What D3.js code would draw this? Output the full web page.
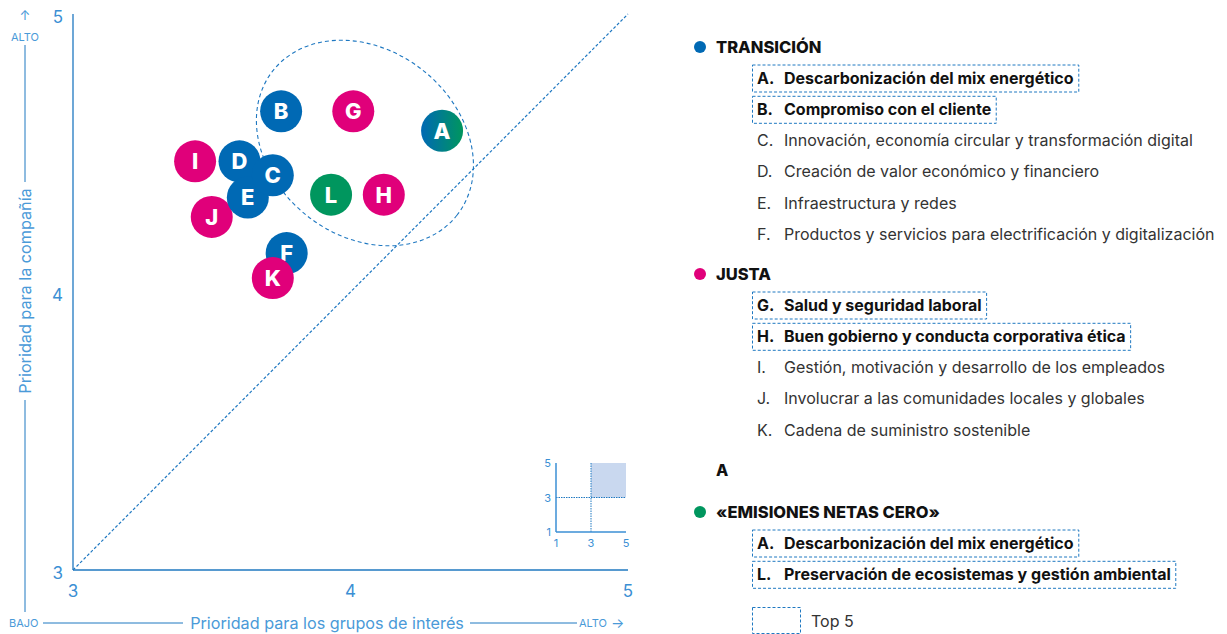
<!DOCTYPE html>
<html>
<head>
<meta charset="utf-8">
<script src="https://cdn.jsdelivr.net/npm/d3@7"></script>
<style>
  body { margin: 0; background: #fff; }
  svg { font-family: Inter, "Noto Sans", sans-serif; }
</style>
</head>
<body>
<svg width="1227" height="634"></svg>
<script>
// data
var labels = ["I", "J", "D", "E", "C", "F", "K", "B", "G", "L", "H", "A"];
var xVals  = [3.44, 3.50, 3.60, 3.63, 3.72, 3.77, 3.72, 3.75, 4.01, 3.93, 4.12, 4.33];
var yVals  = [4.47, 4.27, 4.47, 4.34, 4.42, 4.14, 4.05, 4.65, 4.65, 4.35, 4.35, 4.58];
var groups = ["J", "J", "T", "T", "T", "T", "J", "T", "J", "N", "J", "TN"];

var xTicks = [3, 4, 5];
var yTicks = [3, 4, 5];
var insetTicks = [1, 3, 5];

var groupNames = ["TRANSICIÓN", "JUSTA", "«EMISIONES NETAS CERO»"];
var groupColors = ["#0069b4", "#e0007a", "#00965e"];
var transItems = [["A.", "Descarbonización del mix energético", 1], ["B.", "Compromiso con el cliente", 1],
  ["C.", "Innovación, economía circular y transformación digital", 0],
  ["D.", "Creación de valor económico y financiero", 0], ["E.", "Infraestructura y redes", 0],
  ["F.", "Productos y servicios para electrificación y digitalización", 0]];
var justaItems = [["G.", "Salud y seguridad laboral", 1], ["H.", "Buen gobierno y conducta corporativa ética", 1],
  ["I.", "Gestión, motivación y desarrollo de los empleados", 0],
  ["J.", "Involucrar a las comunidades locales y globales", 0], ["K.", "Cadena de suministro sostenible", 0]];
var netItems = [["A.", "Descarbonización del mix energético", 1], ["L.", "Preservación de ecosistemas y gestión ambiental", 1]];

var axisBlue = "#1f78c1", tickBlue = "#3b8fd4", dashBlue = "#1f78c1";

var svg = d3.select("svg");
var x = d3.scaleLinear().domain([3, 5]).range([73, 628]);
var y = d3.scaleLinear().domain([3, 5]).range([570, 14]);

var defs = svg.append("defs");
var grad = defs.append("linearGradient").attr("id", "gA");
grad.append("stop").attr("offset", "0%").attr("stop-color", "#0069b4");
grad.append("stop").attr("offset", "100%").attr("stop-color", "#00965e");

// axes
svg.append("line").attr("x1", x(3)).attr("x2", x(3)).attr("y1", y(5)).attr("y2", y(3))
  .attr("stroke", axisBlue).attr("stroke-width", 1.3);
svg.append("line").attr("x1", x(3)).attr("x2", x(5)).attr("y1", y(3)).attr("y2", y(3))
  .attr("stroke", axisBlue).attr("stroke-width", 1.3);

svg.selectAll(".yt").data(yTicks).enter().append("text")
  .attr("x", 63).attr("y", function (d) { return y(d) + 9; })
  .attr("text-anchor", "end").attr("fill", tickBlue).style("font-size", "17px").text(function (d) { return d; });
svg.selectAll(".xt").data(xTicks).enter().append("text")
  .attr("x", function (d) { return x(d); }).attr("y", 597)
  .attr("text-anchor", "middle").attr("fill", tickBlue).style("font-size", "17px").text(function (d) { return d; });

// diagonal
svg.append("line").attr("x1", x(3)).attr("y1", y(3)).attr("x2", x(5)).attr("y2", y(5))
  .attr("stroke", dashBlue).attr("stroke-width", 1.2).attr("stroke-dasharray", "3,2");

// axis titles
var lab = "#4a9ad8";
svg.append("text").attr("x", 25).attr("y", 20).attr("text-anchor", "middle").attr("fill", lab)
  .style("font-size", "13px").text("↑");
svg.append("text").attr("x", 25).attr("y", 41).attr("text-anchor", "middle").attr("fill", lab)
  .style("font-size", "11px").text("ALTO");
svg.append("line").attr("x1", 25).attr("x2", 25).attr("y1", 45).attr("y2", 182).attr("stroke", axisBlue);
svg.append("line").attr("x1", 25).attr("x2", 25).attr("y1", 400).attr("y2", 612).attr("stroke", axisBlue);
svg.append("text").attr("transform", "translate(31,291) rotate(-90)").attr("text-anchor", "middle")
  .attr("fill", lab).style("font-size", "16.2px").text("Prioridad para la compañía");

svg.append("text").attr("x", 9).attr("y", 627).attr("fill", lab).style("font-size", "11px").text("BAJO");
svg.append("line").attr("x1", 43).attr("x2", 183).attr("y1", 623).attr("y2", 623).attr("stroke", axisBlue);
svg.append("text").attr("x", 327).attr("y", 629).attr("text-anchor", "middle").attr("fill", lab)
  .style("font-size", "16.2px").text("Prioridad para los grupos de interés");
svg.append("line").attr("x1", 470).attr("x2", 577).attr("y1", 623).attr("y2", 623).attr("stroke", axisBlue);
svg.append("text").attr("x", 579).attr("y", 627).attr("fill", lab).style("font-size", "11px").text("ALTO");
svg.append("text").attr("x", 611).attr("y", 628).attr("fill", lab).style("font-size", "14px").text("→");

// top cluster ellipse
svg.append("ellipse").attr("cx", 0).attr("cy", 0).attr("rx", 117).attr("ry", 93)
  .attr("transform", "translate(" + x(4.052) + "," + y(4.536) + ") rotate(38)")
  .attr("fill", "none").attr("stroke", dashBlue).attr("stroke-width", 1.1).attr("stroke-dasharray", "4,3");

// bubbles
var pts = labels.map(function (l, i) { return { l: l, x: xVals[i], y: yVals[i], g: groups[i] }; });
function fillOf(g) {
  if (g == "TN") return "url(#gA)";
  if (g == "T") return groupColors[0];
  if (g == "J") return groupColors[1];
  return groupColors[2];
}
var b = svg.append("g").selectAll("g").data(pts).enter().append("g")
  .attr("transform", function (d) { return "translate(" + x(d.x) + "," + y(d.y) + ")"; });
b.append("circle").attr("r", 21).attr("fill", function (d) { return fillOf(d.g); });
b.append("text").attr("text-anchor", "middle").attr("dy", "0.36em").attr("fill", "#fff")
  .style("font-size", "22px").style("font-weight", "800").text(function (d) { return d.l; });

// inset
var ix = d3.scaleLinear().domain([1, 5]).range([556, 626]);
var iy = d3.scaleLinear().domain([1, 5]).range([532, 463]);
svg.append("rect").attr("x", ix(3)).attr("y", iy(5)).attr("width", ix(5) - ix(3)).attr("height", iy(3) - iy(5))
  .attr("fill", "#c9d8ef");
svg.append("line").attr("x1", ix(3)).attr("x2", ix(3)).attr("y1", iy(5)).attr("y2", iy(1))
  .attr("stroke", dashBlue).attr("stroke-dasharray", "1.5,1");
svg.append("line").attr("x1", ix(1)).attr("x2", ix(5)).attr("y1", iy(3)).attr("y2", iy(3))
  .attr("stroke", dashBlue).attr("stroke-dasharray", "1.5,1");
svg.append("line").attr("x1", ix(1)).attr("x2", ix(1)).attr("y1", iy(5)).attr("y2", iy(1)).attr("stroke", tickBlue).attr("stroke-width", 1.5);
svg.append("line").attr("x1", ix(1)).attr("x2", ix(5)).attr("y1", iy(1)).attr("y2", iy(1)).attr("stroke", tickBlue).attr("stroke-width", 1.5);
svg.selectAll(".iyt").data(insetTicks).enter().append("text")
  .attr("x", 551).attr("y", function (d) { return iy(d) + 4; }).attr("text-anchor", "end")
  .attr("fill", tickBlue).style("font-size", "11px").text(function (d) { return d; });
svg.selectAll(".ixt").data(insetTicks).enter().append("text")
  .attr("x", function (d) { return ix(d); }).attr("y", 547).attr("text-anchor", "middle")
  .attr("fill", tickBlue).style("font-size", "11px").text(function (d) { return d; });

// legend
function header(name, color, yy) {
  svg.append("circle").attr("cx", 700).attr("cy", yy).attr("r", 6).attr("fill", color);
  svg.append("text").attr("x", 716).attr("y", yy + 5.5).attr("fill", "#111")
    .style("font-size", "16.5px").style("font-weight", "800").text(name);
}
function items(list, y0) {
  list.forEach(function (it, i) {
    var yy = y0 + i * 31.3;
    var t = svg.append("g");
    var w = t.append("text").attr("x", 784).attr("y", yy + 5.5).attr("fill", it[2] ? "#111" : "#333")
      .style("font-size", "16px").style("font-weight", it[2] ? "700" : "400").text(it[1]);
    t.append("text").attr("x", 757).attr("y", yy + 5.5).attr("fill", it[2] ? "#111" : "#333")
      .style("font-size", "16px").style("font-weight", it[2] ? "700" : "400").text(it[0]);
    if (it[2]) {
      var bb = w.node().getBBox();
      t.append("rect").attr("x", 752.5).attr("y", yy - 13).attr("width", bb.x + bb.width + 5 - 752.5).attr("height", 27)
        .attr("fill", "none").attr("stroke", dashBlue).attr("stroke-dasharray", "3,2");
    }
  });
}
header(groupNames[0], groupColors[0], 47);
items(transItems, 78);
header(groupNames[1], groupColors[1], 274);
items(justaItems, 305);
svg.append("text").attr("x", 716).attr("y", 475.5).attr("fill", "#111")
  .style("font-size", "16px").style("font-weight", "800").text("A");
header(groupNames[2], groupColors[2], 512);
items(netItems, 543);

svg.append("rect").attr("x", 752.5).attr("y", 607.5).attr("width", 48).attr("height", 26)
  .attr("fill", "none").attr("stroke", dashBlue).attr("stroke-dasharray", "3,2");
svg.append("text").attr("x", 811).attr("y", 627).attr("fill", "#333").style("font-size", "16px").text("Top 5");
</script>
</body>
</html>
